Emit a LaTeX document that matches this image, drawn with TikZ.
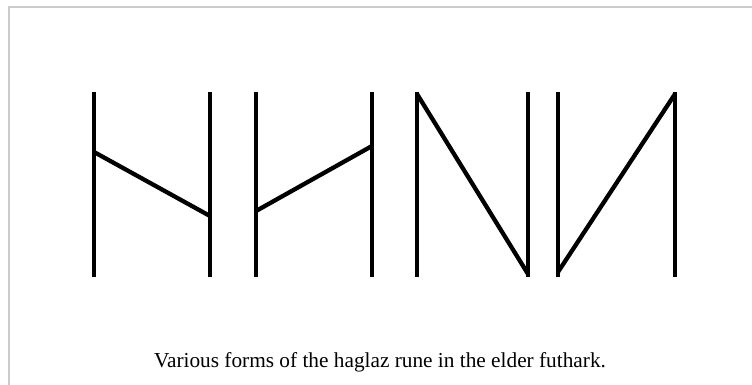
\documentclass[tikz,border=0pt]{standalone}
\usepackage{fontspec}
\setmainfont{Liberation Serif}
\begin{document}
\begin{tikzpicture}[x=1pt,y=-1pt,
  stave/.style={line width=4.3pt,black,line cap=butt},
  frameline/.style={line width=1.5pt,color=black!20}]
\useasboundingbox (0,0) rectangle (752,385);
\fill[white] (0,0) rectangle (752,385);
\draw[frameline] (9,385) -- (9,7) -- (752,7);
% rune 1
\draw[stave] (94,92) -- (94,277);
\draw[stave] (210,92) -- (210,277);
\draw[stave] (94,152) -- (210,216);
% rune 2
\draw[stave] (256,92) -- (256,277);
\draw[stave] (372,92) -- (372,277);
\draw[stave] (256,211) -- (372,146);
% rune 3
\draw[stave] (417,92) -- (417,277);
\draw[stave] (528,92) -- (528,277);
\draw[stave] (417,94) -- (528,274);
% rune 4
\draw[stave] (558,92) -- (558,277);
\draw[stave] (675,92) -- (675,277);
\draw[stave] (558,272) -- (675,94);
\node[anchor=base,font=\fontsize{21.3}{25}\selectfont,inner sep=0pt] (cap) at (380,367) {Various forms of the haglaz rune in the elder futhark.};
\end{tikzpicture}
\end{document}
